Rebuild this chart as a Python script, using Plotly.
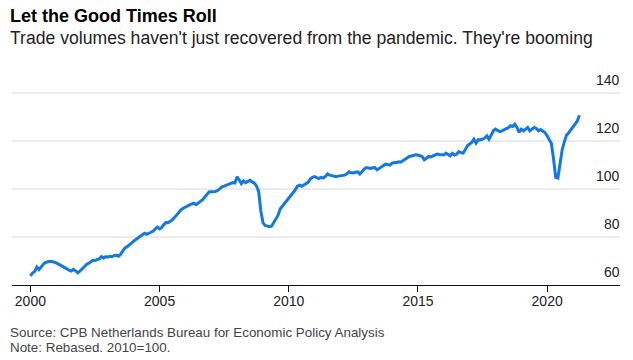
import pandas as pd
import plotly.graph_objects as go

# ---- data (monthly, 2010 = 100) ----
start_month = "2000-01-01"
v2000 = [63.8, 65.0, 65.6, 67.5, 66.4, 67.8, 68.6, 69.4, 69.8, 69.9, 69.8, 69.6]
v2001 = [69.2, 68.7, 68.2, 67.6, 67.1, 66.8, 66.2, 65.8, 66.5, 65.9, 65.1, 65.8]
v2002 = [66.9, 67.6, 68.5, 68.9, 69.6, 70.3, 70.2, 70.6, 70.9, 71.8, 71.3, 71.8]
v2003 = [71.7, 72.0, 71.8, 72.3, 72.4, 72.0, 72.8, 74.3, 75.5, 76.0, 76.9, 77.4]
v2004 = [78.3, 79.0, 79.6, 80.2, 81.0, 81.6, 81.1, 81.4, 82.0, 82.5, 83.4, 84.2]
v2005 = [83.4, 84.0, 85.2, 86.1, 86.0, 86.5, 87.2, 88.2, 89.3, 90.5, 91.4, 92.0]
v2006 = [92.6, 93.0, 93.4, 93.8, 94.1, 93.5, 94.2, 95.0, 95.6, 96.7, 97.8, 98.8]
v2007 = [98.9, 98.8, 99.0, 99.4, 100.2, 100.9, 101.2, 101.5, 101.9, 102.1, 102.7, 102.5]
v2008 = [105.1, 103.8, 102.3, 103.4, 102.7, 103.2, 103.7, 103.0, 102.5, 101.3, 99.0, 91.0]
v2009 = [86.0, 84.8, 84.6, 84.3, 84.5, 86.2, 87.8, 89.0, 91.7, 92.8, 94.0, 95.1]
v2010 = [96.2, 97.5, 98.6, 99.6, 101.1, 101.6, 101.2, 101.7, 102.2, 102.8, 104.2, 104.9]
v2011 = [105.2, 104.8, 104.4, 104.9, 104.6, 105.2, 106.3, 105.8, 105.5, 105.3, 105.2, 105.4]
v2012 = [105.5, 105.4, 105.8, 106.4, 107.2, 106.8, 106.7, 107.0, 107.2, 106.3, 107.5, 108.3]
v2013 = [109.0, 108.8, 108.6, 108.9, 109.0, 108.0, 108.7, 109.4, 109.8, 110.4, 110.2, 110.0]
v2014 = [110.8, 111.1, 111.0, 111.4, 111.2, 111.8, 112.5, 113.0, 113.6, 113.8, 114.2, 114.3]
v2015 = [114.2, 114.0, 113.6, 112.2, 112.9, 113.6, 113.4, 113.9, 114.1, 114.6, 114.4, 114.2]
v2016 = [114.2, 115.0, 114.5, 113.9, 114.9, 114.2, 114.5, 115.6, 115.2, 115.0, 116.5, 118.1]
v2017 = [118.8, 119.5, 120.8, 119.2, 120.6, 120.5, 120.8, 121.3, 122.2, 120.8, 122.5, 124.3]
v2018 = [125.0, 124.6, 124.0, 124.3, 124.8, 125.0, 125.6, 126.4, 126.1, 127.1, 125.7, 123.6]
v2019 = [125.0, 124.3, 125.0, 125.7, 124.3, 125.0, 125.7, 125.3, 124.3, 124.8, 124.0, 123.6]
v2020 = [122.2, 120.5, 119.0, 112.5, 104.9, 104.6, 111.1, 116.5, 119.8, 122.5, 123.5, 124.8]
v2021 = [126.0, 127.3, 128.3, 130.8]

y_ticks = [60, 80, 100, 120, 140]
y_tick_labels = ["60", "80", "100", "120", "140"]
x_tick_years = ["2000", "2005", "2010", "2015", "2020"]

title = "Let the Good Times Roll"
subtitle = "Trade volumes haven't just recovered from the pandemic. They're booming"
source = "Source: CPB Netherlands Bureau for Economic Policy Analysis"
note = "Note: Rebased. 2010=100."

values = (v2000 + v2001 + v2002 + v2003 + v2004 + v2005 + v2006 + v2007 + v2008
          + v2009 + v2010 + v2011 + v2012 + v2013 + v2014 + v2015 + v2016
          + v2017 + v2018 + v2019 + v2020 + v2021)
dates = pd.date_range(start_month, periods=len(values), freq="MS")

FONT = "Liberation Sans, Arial, sans-serif"
W, H = 633, 360
ML, MR, MT, MB = 12, 13, 74, 75
PH = H - MT - MB

fig = go.Figure()
fig.add_trace(go.Scatter(
    x=dates, y=values, mode="lines",
    line=dict(color="#1478de", width=3),
    hoverinfo="skip", showlegend=False,
))

fig.update_layout(
    width=W, height=H,
    margin=dict(l=ML, r=MR, t=MT, b=MB, pad=0),
    paper_bgcolor="white", plot_bgcolor="white",
    font=dict(family=FONT, color="#222"),
    showlegend=False,
)

fig.update_xaxes(
    range=["1999-04-16", "2022-10-27"],
    tickvals=[f"{y}-01-01" for y in x_tick_years],
    ticktext=x_tick_years,
    showgrid=False, zeroline=False,
    showline=True, linecolor="#111", linewidth=1,
    ticks="outside", ticklen=6, tickcolor="#111", tickwidth=1,
    tickfont=dict(size=14, color="#222", family=FONT),
    ticklabelstandoff=-3,
)

fig.update_yaxes(
    range=[60, 148],
    tickvals=y_ticks,
    showticklabels=False,
    showgrid=True, gridcolor="#ececec", gridwidth=2,
    zeroline=False, showline=False, ticks="",
)

# y tick labels sit right-aligned just above each gridline
for val, lab in zip(y_ticks, y_tick_labels):
    fig.add_annotation(text=lab, x=1, y=val, xref="paper", yref="y",
                       xanchor="right", yanchor="middle", xshift=2, yshift=13,
                       showarrow=False, font=dict(size=14, color="#222", family=FONT))

def py(px):
    """pixel row (from top of page) -> paper y"""
    return (H - MB - px) / PH

def pxx(px):
    return (px - ML) / (W - ML - MR)

fig.add_annotation(text=f"<b>{title}</b>", x=pxx(8), y=py(16), xref="paper", yref="paper",
                   xanchor="left", yanchor="middle", showarrow=False,
                   font=dict(size=18, color="#000", family=FONT))
fig.add_annotation(text=subtitle, x=pxx(8), y=py(38), xref="paper", yref="paper",
                   xanchor="left", yanchor="middle", showarrow=False,
                   font=dict(size=17.6, color="#222", family=FONT))
fig.add_annotation(text=source, x=pxx(8), y=py(332), xref="paper", yref="paper",
                   xanchor="left", yanchor="middle", showarrow=False,
                   font=dict(size=13.4, color="#444", family=FONT))
fig.add_annotation(text=note, x=pxx(8), y=py(348), xref="paper", yref="paper",
                   xanchor="left", yanchor="middle", showarrow=False,
                   font=dict(size=13.4, color="#444", family=FONT))

fig.write_html("out.html", config={"displayModeBar": False},
               post_script="document.body.style.margin='0';")
